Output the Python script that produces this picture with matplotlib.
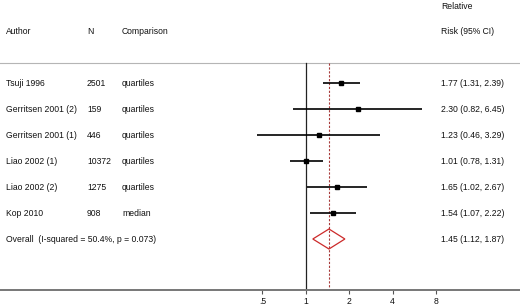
import matplotlib
matplotlib.use("Agg")
import matplotlib.pyplot as plt
import matplotlib.transforms as mtransforms
from matplotlib.ticker import FixedLocator, FixedFormatter, NullLocator
import numpy as np

plt.rcParams['font.family'] = ['Liberation Sans', 'DejaVu Sans']

# ---- data ----
authors = ["Tsuji 1996", "Gerritsen 2001 (2)", "Gerritsen 2001 (1)",
           "Liao 2002 (1)", "Liao 2002 (2)", "Kop 2010"]
n_subjects = ["2501", "159", "446", "10372", "1275", "908"]
comparisons = ["quartiles", "quartiles", "quartiles", "quartiles", "quartiles", "median"]
rr = [1.77, 2.30, 1.23, 1.01, 1.65, 1.54]
rr_lo = [1.31, 0.82, 0.46, 0.78, 1.02, 1.07]
rr_hi = [2.39, 6.45, 3.29, 1.31, 2.67, 2.22]
overall_label = "Overall  (I-squared = 50.4%, p = 0.073)"
overall = 1.45
overall_lo = 1.12
overall_hi = 1.87
tick_values = [0.5, 1, 2, 4, 8]
tick_labels = [".5", "1", "2", "4", "8"]

# ---- layout ----
W, H = 520, 306
fig = plt.figure(figsize=(W / 100, H / 100), dpi=100)
ax_bottom_px = 16
ax = fig.add_axes([0, ax_bottom_px / H, 1, (H - ax_bottom_px) / H])

px_per_doubling = 43.4
x_one_px = 305.7
ax.set_xscale('log', base=2)
ax.set_xlim(2 ** (-x_one_px / px_per_doubling), 2 ** ((W - x_one_px) / px_per_doubling))

row0_px, row_step = 83.0, 26.0
ax_h = H - ax_bottom_px
ax.set_ylim((ax_h - row0_px) / row_step, -row0_px / row_step)

def ypx(p):
    return (p - row0_px) / row_step

fs = 6.2
tc = '#111111'
trans = mtransforms.blended_transform_factory(ax.transAxes, ax.transData)

# header
header_y = ypx(63)
ax.plot([0, 1], [header_y, header_y], transform=trans, color='#b5b5b5', lw=0.8, clip_on=False)
ax.text(6 / W, ypx(32), "Author", transform=trans, fontsize=fs, color=tc, va='center')
ax.text(87 / W, ypx(32), "N", transform=trans, fontsize=fs, color=tc, va='center')
ax.text(122 / W, ypx(32), "Comparison", transform=trans, fontsize=fs, color=tc, va='center')
ax.text(441 / W, ypx(6.5), "Relative", transform=trans, fontsize=fs, color=tc, va='center')
ax.text(441 / W, ypx(32), "Risk (95% CI)", transform=trans, fontsize=fs, color=tc, va='center')

ybottom = ax.get_ylim()[0]
# reference lines
ax.plot([1, 1], [header_y, ybottom], color='#222222', lw=0.9, zorder=2)
ax.plot([overall, overall], [header_y, ybottom], color='#a83a3a', lw=0.8,
        dashes=(2.0, 1.5), zorder=2)

# studies
for i in range(len(authors)):
    ax.plot([rr_lo[i], rr_hi[i]], [i, i], color='black', lw=1.2, solid_capstyle='butt', zorder=3)
    ax.plot([rr[i]], [i], marker='s', color='black', markersize=2.2, zorder=4)
    ax.text(6 / W, i, authors[i], transform=trans, fontsize=fs, color=tc, va='center')
    ax.text(87 / W, i, n_subjects[i], transform=trans, fontsize=fs, color=tc, va='center')
    ax.text(122 / W, i, comparisons[i], transform=trans, fontsize=fs, color=tc, va='center')
    ax.text(441 / W, i, f"{rr[i]:.2f} ({rr_lo[i]:.2f}, {rr_hi[i]:.2f})", transform=trans,
            fontsize=fs, color=tc, va='center')

# overall diamond
k = len(authors)
half_h = 10 / row_step
ax.fill([overall_lo, overall, overall_hi, overall, overall_lo],
        [k, k - half_h, k, k + half_h, k], facecolor='none', edgecolor='#cc2a2a', lw=0.9, zorder=4)
ax.text(6 / W, k, overall_label, transform=trans, fontsize=fs, color=tc, va='center')
ax.text(441 / W, k, f"{overall:.2f} ({overall_lo:.2f}, {overall_hi:.2f})", transform=trans,
        fontsize=fs, color=tc, va='center')

# axes styling
for s in ['top', 'left', 'right']:
    ax.spines[s].set_visible(False)
ax.spines['bottom'].set_color('#777777')
ax.spines['bottom'].set_linewidth(1.4)
ax.yaxis.set_major_locator(NullLocator())
ax.xaxis.set_major_locator(FixedLocator(tick_values))
ax.xaxis.set_major_formatter(FixedFormatter(tick_labels))
ax.xaxis.set_minor_locator(NullLocator())
ax.tick_params(axis='x', direction='out', length=3.2, width=0.8, color='#555555',
               labelsize=fs, labelcolor=tc, pad=1.5)

fig.savefig("out.png", dpi=100)
